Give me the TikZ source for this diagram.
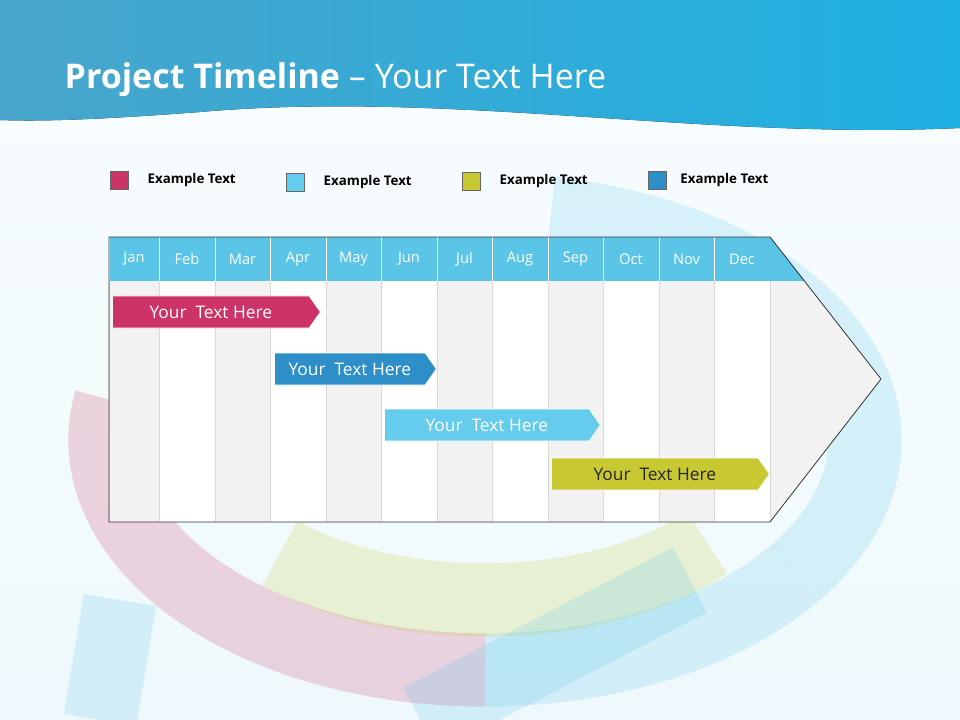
\documentclass[tikz,border=0pt]{standalone}
\usepackage{fontspec}
\setmainfont{Open Sans}
\usetikzlibrary{shapes.symbols}
\definecolor{hdr}{HTML}{5BC5E8}
\definecolor{pinkc}{HTML}{CC3366}
\definecolor{bluec}{HTML}{2E8FC8}
\definecolor{lbluec}{HTML}{66CCEE}
\definecolor{olivec}{HTML}{C8C832}
\definecolor{grayc}{HTML}{F2F2F2}
\definecolor{topa}{HTML}{1B8FBF}
\definecolor{topb}{HTML}{1DB0E2}
\tikzset{
 bar/.style={signal, signal to=east, signal pointer angle=110, draw=white, line width=0.6pt, minimum height=32*0.75pt, inner sep=0pt, text=white, font=\fontsize{13}{13}\selectfont, anchor=west},
 leg/.style={draw=black!60, line width=0.4pt, minimum size=13.5pt, inner sep=0pt},
 legt/.style={font=\fontsize{10}{10}\selectfont\bfseries, anchor=west},
 mon/.style={text=white, font=\fontsize{11}{11}\selectfont},
 ring/.style={line width=55pt, opacity=0.2}
}
\begin{document}
\begin{tikzpicture}[x=0.75pt,y=-0.75pt]
\useasboundingbox (0,0) rectangle (960,720);
\fill[top color=white!96!hdr, bottom color=white!90!hdr] (0,0) rectangle (960,720);
% faint ring
\begin{scope}[shift={(485,440)}]
\draw[ring, hdr] (-80:380 and 230) arc[start angle=-80,end angle=35,x radius=380,y radius=230];
\draw[ring, hdr] (35:380 and 230) arc[start angle=35,end angle=90,x radius=380,y radius=230];
\draw[ring, pinkc] (90:380 and 230) arc[start angle=90,end angle=190,x radius=380,y radius=230];
\draw[ring, olivec] (40:290 and 160) arc[start angle=40,end angle=135,x radius=290,y radius=160];
\end{scope}
\draw[ring, hdr] (120,600) -- (100,720);
\draw[ring, hdr] (420,720) -- (690,580);
% header band
\fill[left color=topa!80!white, right color=topb] (0,0) -- (960,0) -- (960,128) .. controls (700,140) and (450,90) .. (200,112) .. controls (120,118) and (50,122) .. (0,120) -- cycle;
\node[anchor=west, text=white, font=\fontsize{25.5}{26}\selectfont] (title) at (60,80) {\textbf{Project Timeline} -- Your Text Here};
% legend
\node[leg, fill=pinkc] (l1) at (119,180) {};
\node[legt] (t1) at ([xshift=18pt]l1.center) {Example Text};
\node[leg, fill=lbluec] (l2) at (295,182) {};
\node[legt] (t2) at ([xshift=18pt]l2.center) {Example Text};
\node[leg, fill=olivec] (l3) at (471,181) {};
\node[legt] (t3) at ([xshift=18pt]l3.center) {Example Text};
\node[leg, fill=bluec] (l4) at (657,180) {};
\node[legt] (t4) at ([xshift=14pt]l4.center) {Example Text};
% arrow body
\fill[grayc] (770,237) -- (881,379) -- (770,522) -- cycle;
\fill[hdr] (770,237) -- (805,281) -- (770,281) -- cycle;
\foreach \a/\b/\m [count=\i] in {109/159/Jan,159/215/Feb,215/270/Mar,270/326/Apr,326/381/May,381/437/Jun,437/492/Jul,492/548/Aug,548/603/Sep,603/659/Oct,659/714/Nov,714/770/Dec}{
  \pgfmathparse{mod(\i,2)==1?"grayc":"white"}
  \fill[\pgfmathresult] (\a,281) rectangle (\b,522);
  \fill[hdr] (\a,237) rectangle (\b,281);
  \node[mon] (m\i) at ({(\a+\b)/2},259) {\m};
  \draw[white] (\a,237) -- (\a,281);
  \draw[black!15] (\a,281) -- (\a,522);
}
\draw[black!15] (770,281) -- (770,522);
\draw[black!80, line width=0.6pt] (109,237) -- (770,237) -- (881,379) -- (770,522) -- (109,522) -- cycle;
% bars
\node[bar, fill=pinkc, minimum width=208*0.75pt] (b1) at (112,312) {Your\ \ Text Here};
\node[bar, fill=bluec, minimum width=162*0.75pt] (b2) at (274,369) {Your\ \ Text Here};
\node[bar, fill=lbluec, minimum width=216*0.75pt] (b3) at (384,425) {Your\ \ Text Here};
\node[bar, fill=olivec, text=black!85, minimum width=218*0.75pt] (b4) at (551,474) {Your\ \ Text Here};
\end{tikzpicture}
\end{document}
